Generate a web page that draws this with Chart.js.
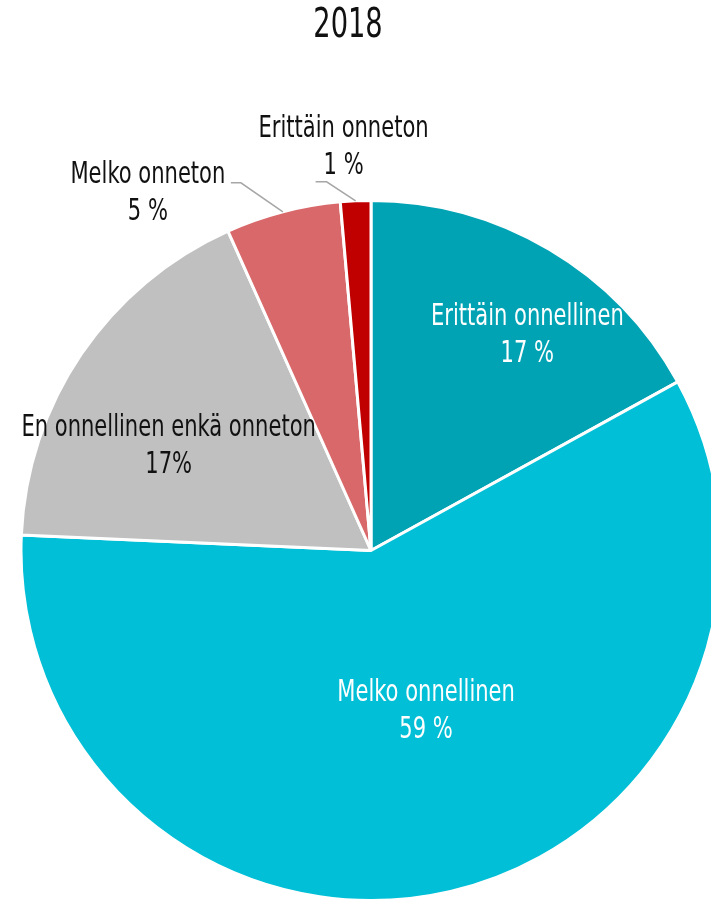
<!DOCTYPE html>
<html>
<head>
<meta charset="utf-8">
<script src="https://cdn.jsdelivr.net/npm/chart.js@4/dist/chart.umd.min.js"></script>
<style>
  html, body { margin: 0; padding: 0; background: #fff; overflow: hidden; }
  #wrap { position: absolute; left: 0; top: 0; width: 742px; height: 902px; }
</style>
</head>
<body>
<div id="wrap"><canvas id="chart" width="742" height="902"></canvas></div>
<script>
const title = '2018'
const categories = ['Erittäin onnellinen', 'Melko onnellinen', 'En onnellinen enkä onneton', 'Melko onneton', 'Erittäin onneton']
const shares = [17.0, 58.7, 17.6, 5.3, 1.4]
const shareLabels = ['17 %', '59 %', '17%', '5 %', '1 %']
const colors = ['#00a3b4', '#00bfd6', '#c0c0c0', '#d9686a', '#c00000']

const FONT = '"Liberation Sans Narrow", "DejaVu Sans Condensed", sans-serif'
const SQUEEZE = 0.78 // the original uses a very narrow face

// where each label goes: inside = turn (deg) from mid angle + fraction of radius,
// outside = leader line elbow offset from edge, tail length, text offset from tail end
const labelPlace = [
  { inside: true, turn: 5.4, frac: 0.76, color: '#ffffff' },
  { inside: true, turn: -5.8, frac: 0.485, color: '#ffffff' },
  { inside: true, turn: -7.0, frac: 0.65, color: '#111111' },
  { inside: false, elbow: [-42, -29], tail: -10, text: [-83, 10], color: '#111111' },
  { inside: false, elbow: [-29, -19], tail: -11, text: [28, -35], color: '#111111' },
]

function narrowText(ctx, text, x, y, sx) {
  ctx.save()
  ctx.translate(x, y)
  ctx.scale(sx, 1)
  ctx.fillText(text, 0, 0)
  ctx.restore()
}

const pieLabels = {
  id: 'pieLabels',
  afterDatasetsDraw(chart) {
    const ctx = chart.ctx
    const meta = chart.getDatasetMeta(0)
    ctx.save()
    ctx.textAlign = 'center'
    ctx.textBaseline = 'middle'
    ctx.font = '30px ' + FONT

    meta.data.forEach((arc, i) => {
      const p = arc.getProps(['x', 'y', 'startAngle', 'endAngle', 'outerRadius'], true)
      const mid = (p.startAngle + p.endAngle) / 2
      const place = labelPlace[i]
      let cx, cy
      if (place.inside) {
        const a = mid + place.turn * Math.PI / 180
        const r = p.outerRadius * place.frac
        cx = p.x + Math.cos(a) * r
        cy = p.y + Math.sin(a) * r
      } else {
        const ex = p.x + Math.cos(mid) * p.outerRadius
        const ey = p.y + Math.sin(mid) * p.outerRadius
        const bx = ex + place.elbow[0]
        const by = ey + place.elbow[1]
        const tx = bx + place.tail
        ctx.strokeStyle = '#a6a6a6'
        ctx.lineWidth = 1.5
        ctx.beginPath()
        ctx.moveTo(ex, ey)
        ctx.lineTo(bx, by)
        ctx.lineTo(tx, by)
        ctx.stroke()
        cx = tx + place.text[0]
        cy = by + place.text[1]
      }
      ctx.fillStyle = place.color
      narrowText(ctx, categories[i], cx, cy - 18, SQUEEZE)
      narrowText(ctx, shareLabels[i], cx, cy + 19, SQUEEZE)
    })

    // title
    ctx.fillStyle = '#111111'
    ctx.font = '41px ' + FONT
    narrowText(ctx, title, 348, 26, 0.74)
    ctx.restore()
  },
}

new Chart(document.getElementById('chart'), {
  type: 'pie',
  data: {
    labels: categories,
    datasets: [
      {
        data: shares,
        backgroundColor: colors,
        borderColor: '#ffffff',
        borderWidth: 3,
      },
    ],
  },
  options: {
    responsive: false,
    animation: false,
    layout: { padding: { top: 199 } },
    plugins: {
      legend: { display: false },
      tooltip: { enabled: false },
      title: { display: false },
    },
  },
  plugins: [pieLabels],
})
</script>
</body>
</html>
